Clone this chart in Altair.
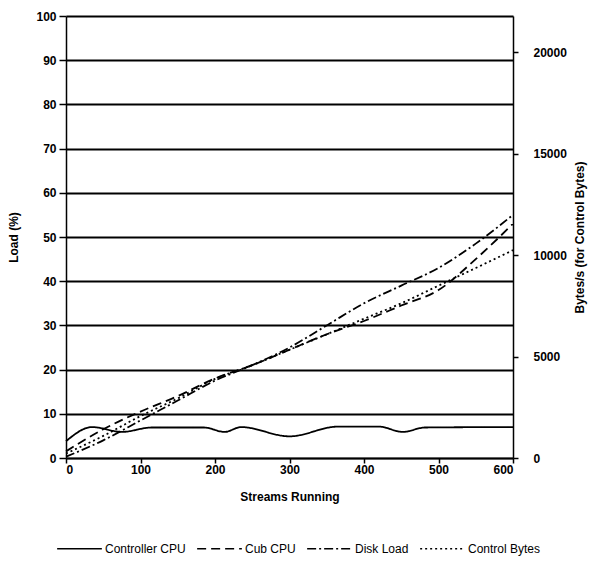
import altair as alt
import pandas as pd

# ---- data ----
series_names = ["Controller CPU", "Cub CPU", "Disk Load", "Control Bytes"]

ctrl_streams = [0, 35, 75, 115, 185, 213, 235, 300, 365, 420, 452, 482, 600]
ctrl_cpu = [3.8, 7.0, 5.9, 6.9, 6.9, 5.9, 7.0, 4.9, 7.1, 7.1, 5.9, 6.9, 7.0]

streams = [0, 50, 100, 150, 200, 250, 300, 350, 400, 450, 500, 550, 600]
cub_cpu = [1.5, 6.5, 10.5, 14, 18, 21, 24.5, 28, 31, 34.5, 38, 45, 53]
disk_load = [0.3, 4, 8.5, 13, 17.5, 21, 25, 30, 35, 39, 43, 48.5, 55]
control_bytes = [220, 1090, 2070, 2940, 3900, 4580, 5340, 6100, 6870, 7630, 8500, 9370, 10250]

x_ticks = [0, 100, 200, 300, 400, 500, 600]
load_ticks = list(range(0, 101, 10))
bytes_ticks = [0, 5000, 10000, 15000, 20000]

dash_range = [[1, 0], [9, 5], [9, 3, 2, 3], [2, 3]]

rows = []
for x, y in zip(ctrl_streams, ctrl_cpu):
    rows.append({"series": "Controller CPU", "streams": x, "value": y})
for x, y in zip(streams, cub_cpu):
    rows.append({"series": "Cub CPU", "streams": x, "value": y})
for x, y in zip(streams, disk_load):
    rows.append({"series": "Disk Load", "streams": x, "value": y})
df_left = pd.DataFrame(rows)
df_right = pd.DataFrame({"series": "Control Bytes", "streams": streams, "bytes": control_bytes})

FONT = "Liberation Sans"

x_enc = alt.X(
    "streams:Q",
    scale=alt.Scale(domain=[0, 600], nice=False),
    axis=alt.Axis(title="Streams Running", values=x_ticks, tickSize=5, labelPadding=1,
                  titlePadding=16, grid=False),
)

dash_enc = alt.StrokeDash(
    "series:N",
    scale=alt.Scale(domain=series_names, range=dash_range),
    legend=alt.Legend(
        title=None, orient="none", direction="horizontal", legendX=-10, legendY=509,
        symbolType="stroke", symbolSize=2000, symbolStrokeWidth=1.6, symbolStrokeColor="black",
        labelFont=FONT, labelFontSize=12, labelColor="black", columnPadding=7, labelOffset=2,
    ),
)

left = alt.Chart(df_left).mark_line(color="black", strokeWidth=1.8, interpolate="monotone").encode(
    x=x_enc,
    y=alt.Y("value:Q", scale=alt.Scale(domain=[0, 100], nice=False),
            axis=alt.Axis(title="Load (%)", values=load_ticks, grid=True, tickSize=7,
                          labelPadding=3, titlePadding=15)),
    strokeDash=dash_enc,
    detail="series:N",
)

right = alt.Chart(df_right).mark_line(color="black", strokeWidth=1.8, interpolate="monotone").encode(
    x=x_enc,
    y=alt.Y("bytes:Q", scale=alt.Scale(domain=[0, 21800], nice=False),
            axis=alt.Axis(title="Bytes/s (for Control Bytes)", orient="right", values=bytes_ticks,
                          format="d", grid=False, tickSize=5, labelPadding=15, titlePadding=20,
                          titleAngle=270)),
    strokeDash=dash_enc,
)

chart = alt.layer(left, right).resolve_scale(y="independent").properties(
    width=447, height=442,
    padding={"left": 7, "top": 10, "right": 3, "bottom": 5},
    background="white",
).configure_view(stroke=None).configure_axis(
    domainColor="black", domainWidth=1.5, tickColor="black", tickWidth=1.5,
    gridColor="black", gridWidth=1.8, gridOpacity=1,
    labelFont=FONT, labelFontSize=12, labelFontWeight="bold", labelColor="black",
    titleFont=FONT, titleFontSize=12, titleFontWeight="bold", titleColor="black",
)

chart.save("out.html", embed_options={"renderer": "svg", "actions": False})
